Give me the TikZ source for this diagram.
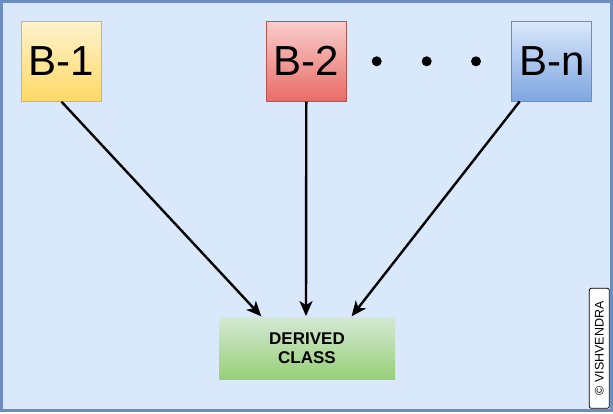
\documentclass[tikz,border=0pt]{standalone}
\usepackage{fontspec}
\setmainfont{Liberation Sans}
\usepackage{tikz}
\usetikzlibrary{arrows.meta}
\definecolor{framefill}{HTML}{DAE8FC}
\definecolor{framedraw}{HTML}{6C8EBF}
\definecolor{yellowtop}{HTML}{FFF2CC}
\definecolor{yellowbot}{HTML}{FFD966}
\definecolor{yellowdraw}{HTML}{D6B656}
\definecolor{redtop}{HTML}{F8CECC}
\definecolor{redbot}{HTML}{EA6B66}
\definecolor{reddraw}{HTML}{B85450}
\definecolor{bluebot}{HTML}{7EA6E0}
\definecolor{greentop}{HTML}{D5E8D4}
\definecolor{greenbot}{HTML}{97D077}
\tikzstyle{base} = [rectangle, draw, line width=0.8pt, inner sep=0pt,
minimum width=80, minimum height=80, font=\fontsize{42}{42}\selectfont]
\tikzstyle{derived} = [rectangle, inner sep=0pt, align=center, minimum width=176, minimum height=62,
top color=greentop, bottom color=greenbot, font=\bfseries\fontsize{17}{19.6}\selectfont]
\tikzstyle{line} = [draw, ->, >={Stealth[length=15pt, width=13pt, inset=4pt]}, line width=2.4pt]

\begin{document}
\begin{tikzpicture}[x=1pt, y=-1pt]
    \useasboundingbox (0,0) rectangle (613,413);
    % background frame
    \draw[framedraw, fill=framefill, line width=3pt] (1.5,1.5) rectangle (611.5,410.5);

    % Nodes
    \node [base, draw=yellowdraw, top color=yellowtop, bottom color=yellowbot] (b1) at (61.5,61.3) {B-1};
    \node [base, draw=reddraw, top color=redtop, bottom color=redbot] (b2) at (306.3,61.3) {B-2};
    \node [base, draw=framedraw, top color=framefill, bottom color=bluebot] (bn) at (551.7,61) {B-n};
    \node [derived] (derived) at (307,348.3) {DERIVED\\CLASS};

    % dots between B-2 and B-n
    \foreach \x [count=\i] in {376.7, 426.7, 476}
        \node [circle, fill=black, inner sep=0pt, minimum size=10] (dot\i) at (\x,61.3) {};

    % copyright tag
    \node [draw, fill=white, rounded corners=2pt, line width=0.8pt, rotate=90, inner sep=0pt,
        minimum width=120, minimum height=20, font=\fontsize{12.5}{12.5}\selectfont] (copy) at (599.3,348.3) {© VISHVENDRA};

    % arrows
    \path [line, shorten >=1pt] (b1.south) -- ([xshift=-45]derived.north);
    \path [line, shorten >=1pt] (b2.south) -- ([xshift=-1]derived.north);
    \path [line, shorten >=1pt] ([xshift=-32]bn.south) -- ([xshift=44]derived.north);
\end{tikzpicture}
\end{document}
